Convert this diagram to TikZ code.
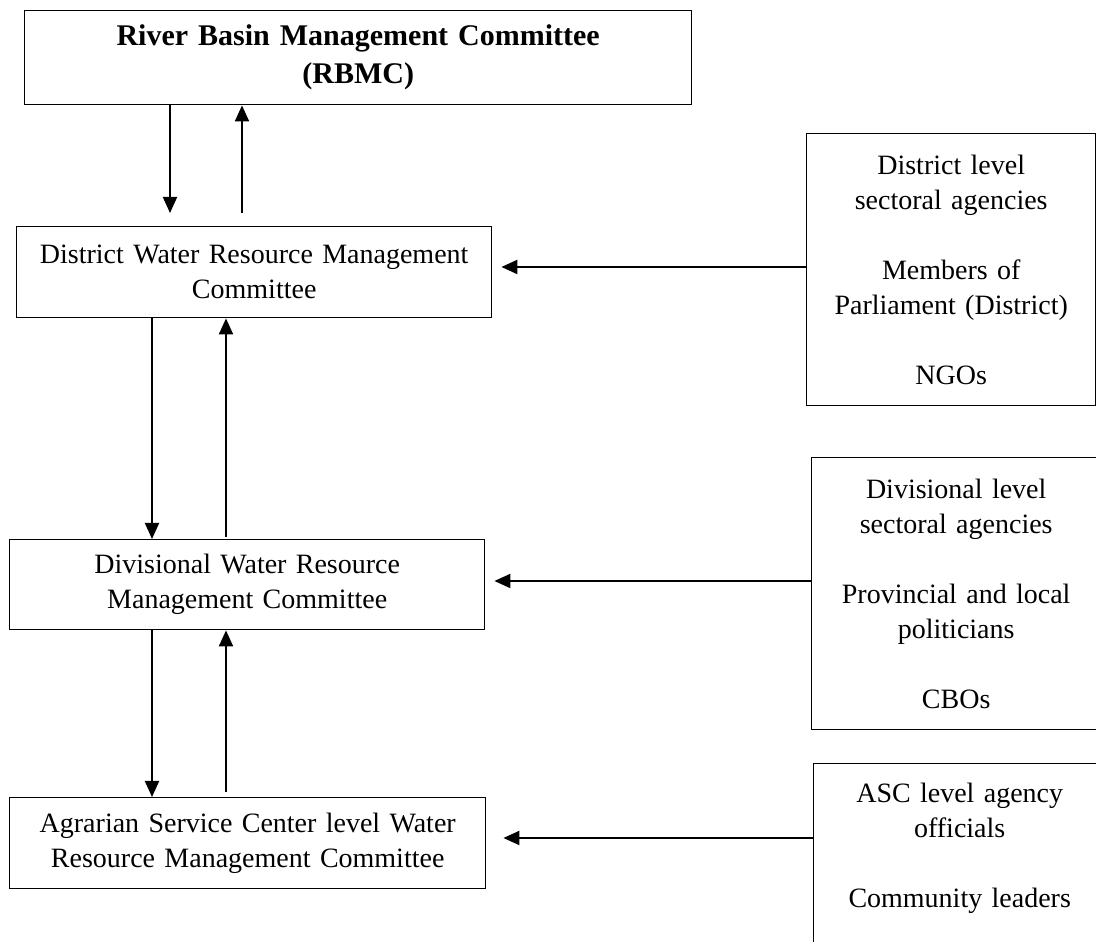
\documentclass[tikz,border=0pt]{standalone}
\usepackage{fontspec}
\setmainfont{Liberation Serif}
\usetikzlibrary{arrows.meta, calc}
\tikzset{
  body/.style={font=\fontsize{28}{35}\selectfont},
  headfont/.style={font=\bfseries\fontsize{30}{38}\selectfont},
  box/.style={draw=black, line width=1.4pt, inner sep=0pt, align=center, anchor=north west},
  levelbox/.style={box, body, text width=475pt, minimum height=91pt},
  sidebox/.style={box, body, minimum height=272pt},
  arr/.style={line width=2pt, -{Triangle[length=16pt, width=14pt]}}
}

\begin{document}
\begin{tikzpicture}[x=1pt,y=1pt]
\clip (0,0) rectangle (1096,942);

% committees
\node[box, headfont, text width=667pt, minimum height=94pt] (rbmc) at (24,932)
{River Basin Management Committee\\(RBMC)};

\node[levelbox] (dwrmc) at (16,716)
{District Water Resource Management\\Committee};

\node[levelbox, minimum height=90pt] (divwrmc) at (9,403)
{Divisional Water Resource\\Management Committee};

\node[levelbox, text width=476pt] (ascwrmc) at (9,145)
{Agrarian Service Center level Water\\Resource Management Committee};

% stakeholders
\node[sidebox, text width=289pt] (dside) at (806,809)
{District level\\sectoral agencies\\[35pt]Members of\\Parliament (District)\\[35pt]NGOs};

\node[sidebox, text width=289pt] (divside) at (811,485)
{Divisional level\\sectoral agencies\\[35pt]Provincial and local\\politicians\\[35pt]CBOs};

\node[sidebox, text width=292pt, minimum height=234pt] (ascside) at (813,179)
{ASC level agency\\officials\\[35pt]Community leaders\\[35pt]\mbox{}};

% up and down links
\draw[arr] (rbmc.south -| 170,0) -- ($(dwrmc.north -| 170,0)+(0,13)$);
\draw[arr] ($(dwrmc.north -| 242,0)+(0,13)$) -- (rbmc.south -| 242,0);

\draw[arr] (dwrmc.south -| 152,0) -- (divwrmc.north -| 152,0);
\draw[arr] ($(divwrmc.north -| 226,0)+(0,2)$) -- (dwrmc.south -| 226,0);

\draw[arr] (divwrmc.south -| 152,0) -- (ascwrmc.north -| 152,0);
\draw[arr] ($(ascwrmc.north -| 226,0)+(0,5)$) -- (divwrmc.south -| 226,0);

% stakeholder inputs
\draw[arr] (dside.west |- 0,675) -- ($(dwrmc.east |- 0,675)+(9,0)$);
\draw[arr] (divside.west |- 0,361) -- ($(divwrmc.east |- 0,361)+(9,0)$);
\draw[arr] (ascside.west |- 0,104) -- ($(ascwrmc.east |- 0,104)+(17,0)$);

\end{tikzpicture}
\end{document}
